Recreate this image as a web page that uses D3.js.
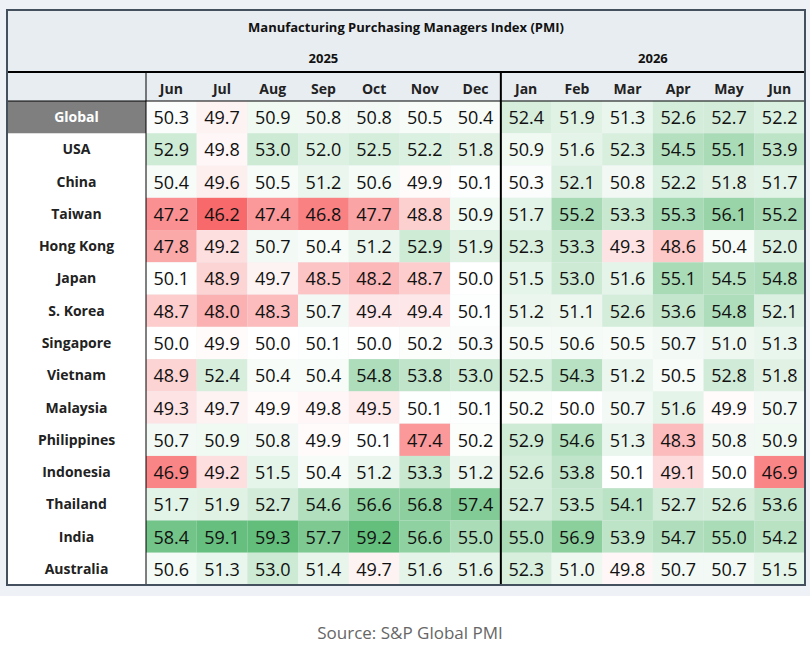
<!DOCTYPE html>
<html><head><meta charset="utf-8">
<script src="https://cdn.jsdelivr.net/npm/d3@7"></script>
<style>body{margin:0;background:#fff;}</style>
</head><body><svg id="chart" width="810" height="655"></svg>
<script>
"use strict"

var months = ["Jun","Jul","Aug","Sep","Oct","Nov","Dec","Jan","Feb","Mar","Apr","May","Jun"];
var years = [{label:"2025", from:0, to:7}, {label:"2026", from:7, to:13}];
var countries = ["Global","USA","China","Taiwan","Hong Kong","Japan","S. Korea","Singapore","Vietnam","Malaysia","Philippines","Indonesia","Thailand","India","Australia"];
var values = [
	[50.3,49.7,50.9,50.8,50.8,50.5,50.4,52.4,51.9,51.3,52.6,52.7,52.2],
	[52.9,49.8,53.0,52.0,52.5,52.2,51.8,50.9,51.6,52.3,54.5,55.1,53.9],
	[50.4,49.6,50.5,51.2,50.6,49.9,50.1,50.3,52.1,50.8,52.2,51.8,51.7],
	[47.2,46.2,47.4,46.8,47.7,48.8,50.9,51.7,55.2,53.3,55.3,56.1,55.2],
	[47.8,49.2,50.7,50.4,51.2,52.9,51.9,52.3,53.3,49.3,48.6,50.4,52.0],
	[50.1,48.9,49.7,48.5,48.2,48.7,50.0,51.5,53.0,51.6,55.1,54.5,54.8],
	[48.7,48.0,48.3,50.7,49.4,49.4,50.1,51.2,51.1,52.6,53.6,54.8,52.1],
	[50.0,49.9,50.0,50.1,50.0,50.2,50.3,50.5,50.6,50.5,50.7,51.0,51.3],
	[48.9,52.4,50.4,50.4,54.8,53.8,53.0,52.5,54.3,51.2,50.5,52.8,51.8],
	[49.3,49.7,49.9,49.8,49.5,50.1,50.1,50.2,50.0,50.7,51.6,49.9,50.7],
	[50.7,50.9,50.8,49.9,50.1,47.4,50.2,52.9,54.6,51.3,48.3,50.8,50.9],
	[46.9,49.2,51.5,50.4,51.2,53.3,51.2,52.6,53.8,50.1,49.1,50.0,46.9],
	[51.7,51.9,52.7,54.6,56.6,56.8,57.4,52.7,53.5,54.1,52.7,52.6,53.6],
	[58.4,59.1,59.3,57.7,59.2,56.6,55.0,55.0,56.9,53.9,54.7,55.0,54.2],
	[50.6,51.3,53.0,51.4,49.7,51.6,51.6,52.3,51.0,49.8,50.7,50.7,51.5]
];
var title = "Manufacturing Purchasing Managers Index (PMI)";
var source = "Source: S&P Global PMI";

var svg = d3.select("#chart");
var font = "'Open Sans', sans-serif";

// page band behind table
svg.append("rect").attr("x",0).attr("y",0).attr("width",810).attr("height",596).attr("fill","#eef2f6");

var left = 7, right = 805, tableTop = 10, labelW = 139;
var yearBottom = 72, monthBottom = 101, bottom = 585;

var x = d3.scaleBand().domain(d3.range(months.length)).range([left + labelW, right]);
var y = d3.scaleBand().domain(d3.range(countries.length)).range([monthBottom, bottom]);
var color = d3.scaleLinear().domain([46.2, 50, 59.3]).range(["#f8696b","#ffffff","#63be7b"]);

// header background
svg.append("rect").attr("x",left).attr("y",tableTop).attr("width",right-left).attr("height",monthBottom-tableTop).attr("fill","#e8edf2");
// label column background
svg.append("rect").attr("x",left).attr("y",monthBottom).attr("width",labelW).attr("height",bottom-monthBottom).attr("fill","#ffffff");

svg.append("text").attr("x",(left+right)/2).attr("y",32).attr("text-anchor","middle")
	.attr("font-family",font).attr("font-size",13).attr("font-weight","bold").attr("fill","#111").text(title);

years.forEach(function(yr){
	var cx = (x(yr.from) + x(yr.to-1) + x.bandwidth())/2;
	svg.append("text").attr("x",cx).attr("y",63).attr("text-anchor","middle")
		.attr("font-family",font).attr("font-size",13).attr("font-weight","bold").attr("fill","#111").text(yr.label);
});

svg.selectAll(".month").data(months).enter().append("text")
	.attr("x",function(d,i){return x(i)+x.bandwidth()/2;}).attr("y",94).attr("text-anchor","middle")
	.attr("font-family",font).attr("font-size",14).attr("font-weight","bold").attr("fill","#222").text(function(d){return d;});

// rows
var rows = svg.selectAll(".row").data(values).enter().append("g")
	.attr("transform",function(d,i){return "translate(0,"+y(i)+")";});

rows.selectAll("rect").data(function(d){return d;}).enter().append("rect")
	.attr("x",function(d,i){return x(i);}).attr("y",0)
	.attr("width",x.bandwidth()).attr("height",y.bandwidth())
	.attr("fill",function(d){return color(d);});

rows.selectAll("text.v").data(function(d){return d;}).enter().append("text")
	.attr("class","v")
	.attr("x",function(d,i){return x(i)+x.bandwidth()/2;}).attr("y",y.bandwidth()/2+7)
	.attr("text-anchor","middle").attr("font-family",font).attr("font-size",18).attr("fill","#111")
	.text(function(d){return d.toFixed(1);});

// global label highlight
svg.append("rect").attr("x",left).attr("y",y(0)).attr("width",labelW).attr("height",y.bandwidth()).attr("fill","#7f7f7f");

svg.selectAll(".country").data(countries).enter().append("text")
	.attr("x",left+labelW/2).attr("y",function(d,i){return y(i)+y.bandwidth()/2+5;})
	.attr("text-anchor","middle").attr("font-family",font).attr("font-size",14).attr("font-weight","bold")
	.attr("fill",function(d,i){return i==0 ? "#fff" : "#222";}).text(function(d){return d;});

// lines
svg.append("line").attr("x1",left).attr("x2",right).attr("y1",yearBottom).attr("y2",yearBottom).attr("stroke","#000").attr("stroke-width",2);
svg.append("line").attr("x1",left).attr("x2",right).attr("y1",monthBottom).attr("y2",monthBottom).attr("stroke","#000").attr("stroke-width",1);
svg.append("line").attr("x1",x(0)).attr("x2",x(0)).attr("y1",yearBottom).attr("y2",bottom).attr("stroke","#000").attr("stroke-width",1);
svg.append("line").attr("x1",x(7)).attr("x2",x(7)).attr("y1",yearBottom).attr("y2",bottom).attr("stroke","#000").attr("stroke-width",2);
svg.append("rect").attr("x",left).attr("y",tableTop).attr("width",right-left).attr("height",bottom-tableTop)
	.attr("fill","none").attr("stroke","#44505e").attr("stroke-width",2);

svg.append("text").attr("x",410).attr("y",639).attr("text-anchor","middle")
	.attr("font-family",font).attr("font-size",17).attr("fill","#666").text(source);
</script>
</body></html>
